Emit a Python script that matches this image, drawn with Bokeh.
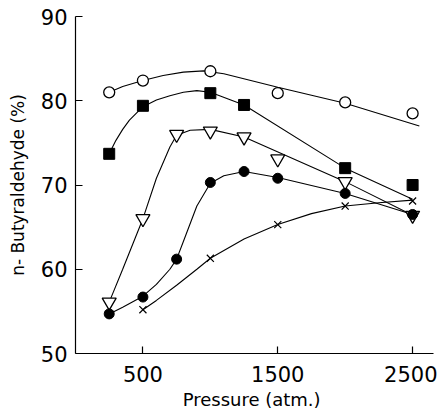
from bokeh.plotting import figure
from bokeh.models import Range1d, FixedTicker
from bokeh.embed import file_html
from bokeh.resources import INLINE

# ---- data ----
# open circles
oc_p = [250, 500, 1000, 1500, 2000, 2500]
oc_y = [81.0, 82.4, 83.5, 80.9, 79.8, 78.5]
oc_curve_p = [250, 350, 500, 650, 800, 950, 1100, 1500, 2000, 2550]
oc_curve_y = [81.0, 81.7, 82.4, 83.0, 83.4, 83.55, 83.2, 81.6, 79.7, 77.0]

# filled squares
fs_p = [250, 500, 1000, 1250, 2000, 2500]
fs_y = [73.7, 79.4, 80.9, 79.5, 72.0, 70.0]
fs_curve_p = [250, 300, 350, 400, 500, 600, 700, 800, 900, 1000, 1250, 2000, 2500]
fs_curve_y = [73.7, 75.3, 76.6, 77.7, 79.3, 80.1, 80.6, 81.0, 81.2, 81.0, 79.5, 72.0, 68.3]

# open (inverted) triangles
ot_p = [250, 500, 750, 1000, 1250, 1500, 2000, 2500]
ot_y = [56.1, 66.0, 76.0, 76.4, 75.7, 73.1, 70.4, 66.4]
ot_curve_p = [250, 350, 500, 600, 700, 750, 850, 1000, 1250, 2000, 2500]
ot_curve_y = [56.1, 60.0, 66.0, 70.8, 74.5, 75.9, 76.5, 76.6, 75.7, 70.4, 66.4]

# filled circles
fc_p = [250, 500, 750, 1000, 1250, 1500, 2000, 2500]
fc_y = [54.7, 56.7, 61.2, 70.3, 71.6, 70.8, 69.0, 66.5]
fc_curve_p = [250, 350, 500, 600, 700, 750, 800, 900, 1000, 1100, 1250, 1500, 2000, 2500]
fc_curve_y = [54.7, 55.5, 56.8, 58.2, 60.0, 61.2, 63.3, 67.5, 70.2, 71.1, 71.6, 70.9, 69.0, 66.5]

# crosses
cx_p = [500, 1000, 1500, 2000, 2500]
cx_y = [55.2, 61.3, 65.3, 67.5, 68.1]
cx_curve_p = [500, 600, 750, 900, 1000, 1250, 1500, 1750, 2000, 2250, 2500]
cx_curve_y = [55.2, 56.3, 58.1, 60.0, 61.3, 63.6, 65.3, 66.6, 67.5, 67.9, 68.2]

x_ticks = [500, 1500, 2500]
y_ticks = [50, 60, 70, 80, 90]

FONT = "DejaVu Sans"

p = figure(width=437, height=412, output_backend="svg", toolbar_location=None,
           x_range=Range1d(0, 2655), y_range=Range1d(50, 90),
           min_border_left=75, min_border_right=4, min_border_top=16,
           min_border_bottom=53)
p.outline_line_color = None
p.grid.visible = False
p.background_fill_color = "white"
p.border_fill_color = "white"

for ax in (p.xaxis[0], p.yaxis[0]):
    ax.axis_line_color = "black"
    ax.axis_line_width = 1.2
    ax.major_tick_line_color = "black"
    ax.major_tick_line_width = 1.2
    ax.major_tick_in = 7
    ax.major_tick_out = 0
    ax.minor_tick_line_color = None
    ax.major_label_text_font = FONT
    ax.major_label_text_font_size = "21px"
    ax.major_label_text_color = "black"
    ax.axis_label_text_font = FONT
    ax.axis_label_text_font_size = "18px"
    ax.axis_label_text_font_style = "normal"
    ax.axis_label_text_color = "black"

p.xaxis.ticker = FixedTicker(ticks=x_ticks)
p.yaxis.ticker = FixedTicker(ticks=y_ticks)
p.xaxis.axis_label = "Pressure  (atm.)"
p.yaxis.axis_label = "n- Butyraldehyde (%)"
p.yaxis.axis_label_text_font_size = "17px"
p.xaxis.major_label_standoff = 12
p.yaxis.major_label_standoff = 8
p.xaxis.axis_label_standoff = 4
p.yaxis.axis_label_standoff = 10

lw = 1.1
for cp, cy in [(oc_curve_p, oc_curve_y), (fs_curve_p, fs_curve_y),
               (ot_curve_p, ot_curve_y), (fc_curve_p, fc_curve_y),
               (cx_curve_p, cx_curve_y)]:
    p.line(cp, cy, line_color="black", line_width=lw)

p.scatter(oc_p, oc_y, marker="circle", size=11, fill_color="white",
          line_color="black", line_width=1.3)
p.scatter(fs_p, fs_y, marker="square", size=11, fill_color="black",
          line_color="black", line_width=1)
p.scatter(ot_p, ot_y, marker="inverted_triangle", size=14, fill_color="white",
          line_color="black", line_width=1.3)
p.scatter(fc_p, fc_y, marker="circle", size=10, fill_color="black",
          line_color="black", line_width=1)
p.scatter(cx_p, cx_y, marker="x", size=10, line_color="black", line_width=1.2)

open("out.html", "w").write(file_html(p, INLINE))
